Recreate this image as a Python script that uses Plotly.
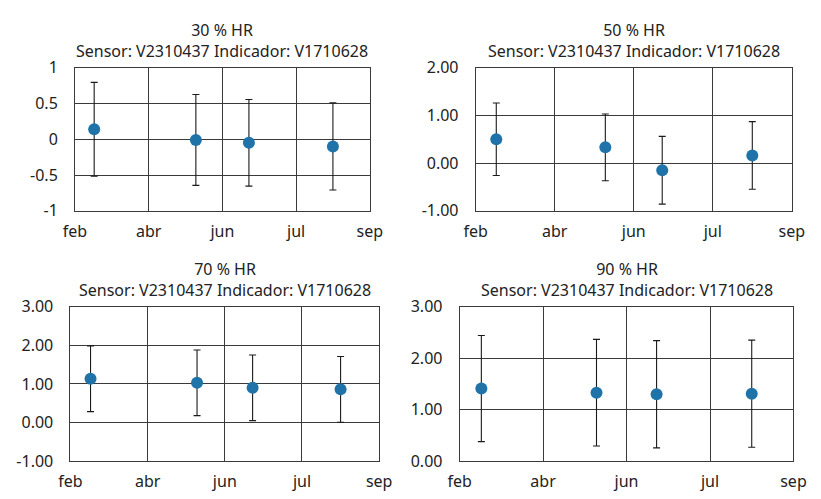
import plotly.graph_objects as go
from plotly.subplots import make_subplots

# ---- data ----
month_labels = ["feb", "abr", "jun", "jul", "sep"]
month_pos = [0, 1, 2, 3, 4]
x_points = [0.26, 1.64, 2.36, 3.50]

titles = ["30 % HR", "50 % HR", "70 % HR", "90 % HR"]
subtitle = "Sensor: V2310437 Indicador: V1710628"

err_30 = [0.14, -0.01, -0.05, -0.10]
unc_30 = [0.655, 0.635, 0.605, 0.61]
err_50 = [0.50, 0.33, -0.15, 0.16]
unc_50 = [0.76, 0.70, 0.71, 0.71]
err_70 = [1.135, 1.03, 0.90, 0.86]
unc_70 = [0.85, 0.85, 0.85, 0.85]
err_90 = [1.41, 1.33, 1.30, 1.31]
unc_90 = [1.03, 1.035, 1.04, 1.04]

ytick_30 = [-1, -0.5, 0, 0.5, 1]
ytext_30 = ["-1", "-0.5", "0", "0.5", "1"]
ytick_50 = [-1, 0, 1, 2]
ytext_50 = ["-1.00", "0.00", "1.00", "2.00"]
ytick_70 = [-1, 0, 1, 2, 3]
ytext_70 = ["-1.00", "0.00", "1.00", "2.00", "3.00"]
ytick_90 = [0, 1, 2, 3]
ytext_90 = ["0.00", "1.00", "2.00", "3.00"]

series = [
    (err_30, unc_30, ytick_30, ytext_30, [-1, 1]),
    (err_50, unc_50, ytick_50, ytext_50, [-1, 2]),
    (err_70, unc_70, ytick_70, ytext_70, [-1, 3]),
    (err_90, unc_90, ytick_90, ytext_90, [0, 3]),
]

W, H = 821, 499
# pixel boxes (left, right, top, bottom)
boxes = [(65, 369, 59.3, 209), (478.3, 804.3, 59.3, 209),
         (60.3, 378.7, 309.3, 471), (461.7, 806, 309.3, 471)]

fig = make_subplots(rows=2, cols=2)
FONT = "Noto Sans"
GRID = "#3a3a3a"
MARK = "#1f73a8"
FS = 16

for i, (vals, unc, tv, tt, rng) in enumerate(series):
    r, c = i // 2 + 1, i % 2 + 1
    fig.add_trace(go.Scatter(
        x=x_points, y=vals, mode="markers",
        marker=dict(color=MARK, size=12),
        error_y=dict(type="data", array=unc, visible=True, color="#1a1a1a",
                     thickness=1.1, width=3.5),
        showlegend=False), row=r, col=c)
    l, rr, t, b = boxes[i]
    xd = [l / W, rr / W]
    yd = [1 - b / H, 1 - t / H]
    xname = "xaxis" if i == 0 else f"xaxis{i+1}"
    yname = "yaxis" if i == 0 else f"yaxis{i+1}"
    fig.layout[xname].update(
        domain=xd, range=[0, 4], tickvals=month_pos, ticktext=month_labels,
        showgrid=True, gridcolor=GRID, gridwidth=1, zeroline=False,
        showline=True, linecolor=GRID, linewidth=1, mirror=True,
        ticks="", ticklabelstandoff=6,
        tickfont=dict(family=FONT, size=FS, color="#222"))
    fig.layout[yname].update(
        domain=yd, range=rng, tickvals=tv, ticktext=tt,
        showgrid=True, gridcolor=GRID, gridwidth=1, zeroline=False,
        showline=True, linecolor=GRID, linewidth=1, mirror=True,
        ticks="", ticklabelstandoff=13,
        tickfont=dict(family=FONT, size=FS, color="#222"))
    fig.add_annotation(
        x=(xd[0] + xd[1]) / 2, y=yd[1], xref="paper", yref="paper",
        xanchor="center", yanchor="bottom", yshift=4, showarrow=False,
        text=f"{titles[i]}<br>{subtitle}",
        font=dict(family=FONT, size=FS, color="#222"))

fig.update_layout(
    width=W, height=H, margin=dict(l=0, r=0, t=0, b=0),
    paper_bgcolor="white", plot_bgcolor="white",
    font=dict(family=FONT, size=FS, color="#222"),
)
fig.write_html("out.html")
